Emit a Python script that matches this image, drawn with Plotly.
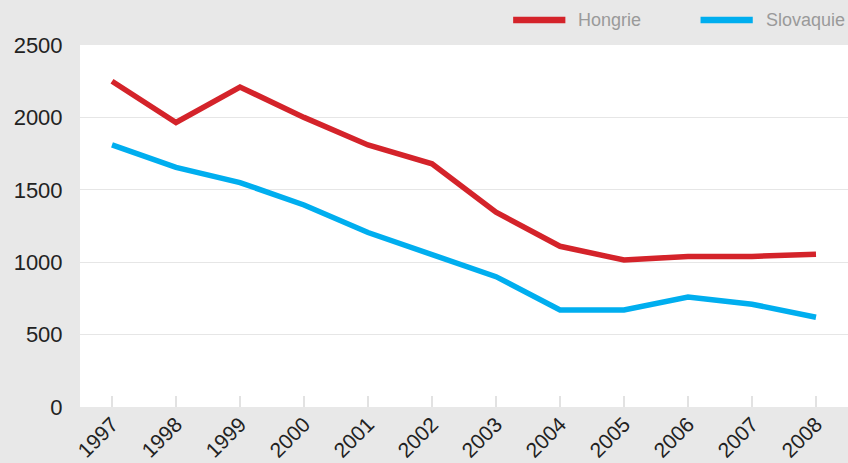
import plotly.graph_objects as go

years = ["1997", "1998", "1999", "2000", "2001", "2002", "2003", "2004", "2005", "2006", "2007", "2008"]
hongrie = [2250, 1965, 2210, 2000, 1810, 1680, 1345, 1110, 1015, 1040, 1040, 1055]
slovaquie = [1810, 1655, 1550, 1395, 1205, 1055, 900, 670, 670, 760, 710, 620]
series_names = ["Hongrie", "Slovaquie"]
colors = ["#d4232a", "#00aeef"]
y_ticks = [0, 500, 1000, 1500, 2000, 2500]

fig = go.Figure()
for name, vals, col in zip(series_names, [hongrie, slovaquie], colors):
    fig.add_trace(go.Scatter(x=years, y=vals, mode="lines", name=name,
                             line=dict(color=col, width=5.5), showlegend=False))

# custom legend (long line symbols)
leg = [(0.564, 0.632, 0.646), (0.808, 0.876, 0.890)]
for (x0, x1, xt), name, col in zip(leg, series_names, colors):
    fig.add_shape(type="line", xref="paper", yref="paper", x0=x0, x1=x1,
                  y0=1.069, y1=1.069, line=dict(color=col, width=6.5), layer="above")
    fig.add_annotation(xref="paper", yref="paper", x=xt, y=1.069, text=name,
                       showarrow=False, xanchor="left", yanchor="middle",
                       font=dict(size=18, color="#9a9a9a", family="Liberation Sans, Arial"))

fig.update_layout(
    width=848, height=463,
    margin=dict(l=80, r=0, t=45, b=56),
    paper_bgcolor="#e8e8e8",
    plot_bgcolor="#ffffff",
    font=dict(family="Liberation Sans, Arial", size=22, color="#222222"),
    xaxis=dict(type="category", range=[-0.5, 11.5], showgrid=False,
               ticks="inside", ticklen=11, tickcolor="#e2e2e2", tickwidth=1.5,
               tickangle=-45, tickfont=dict(size=21, color="#222222"),
               automargin=False,
               showline=False, zeroline=False),
    yaxis=dict(range=[0, 2500], tickvals=y_ticks, showgrid=True,
               gridcolor="#e6e6e6", gridwidth=1, zeroline=False, showline=False,
               ticks="outside", ticklen=12, tickcolor="rgba(0,0,0,0)",
               tickfont=dict(size=22, color="#222222"), automargin=False),
)

fig.write_html("out.html", config={"displayModeBar": False},
               post_script="document.body.style.margin='0';document.body.style.overflow='hidden';")
